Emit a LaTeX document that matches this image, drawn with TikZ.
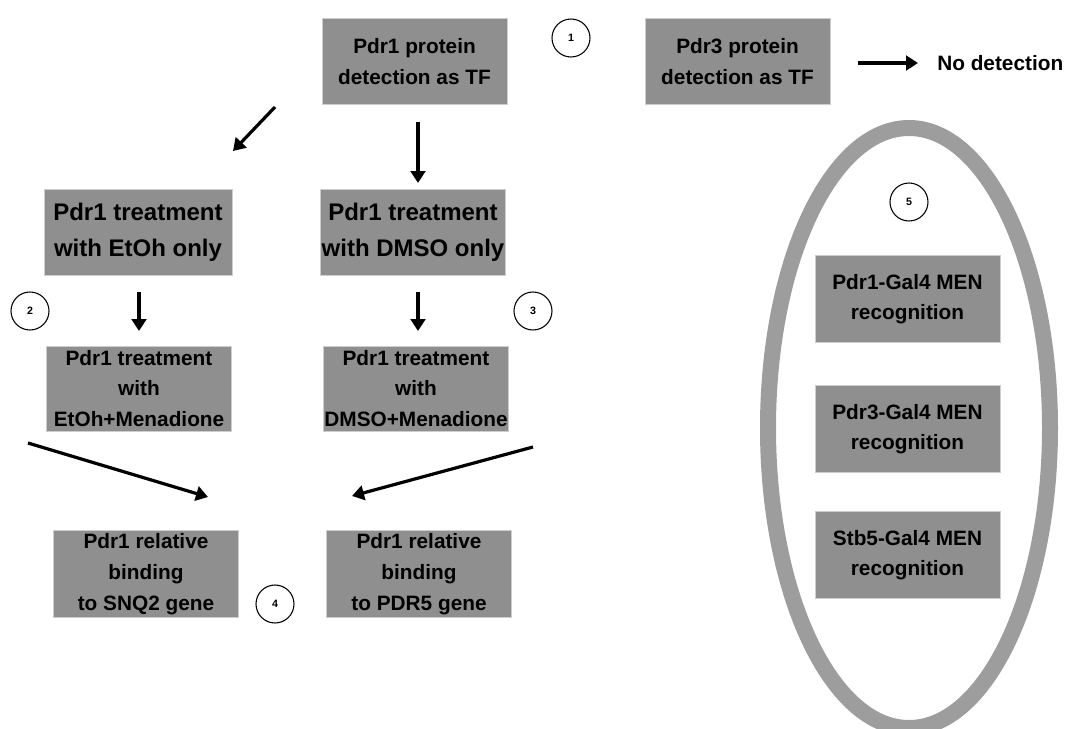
\documentclass[tikz,border=0pt]{standalone}
\usepackage{fontspec}
\setmainfont{Liberation Sans}
\usetikzlibrary{arrows.meta}
\definecolor{boxgray}{RGB}{143,143,143}
\definecolor{ringgray}{RGB}{157,157,157}
\definecolor{edgegray}{RGB}{205,205,205}
\begin{document}
\begin{tikzpicture}[x=0.75pt,y=-0.75pt,
  box/.style={fill=boxgray, draw=edgegray, line width=0.6pt, inner sep=0pt, align=center,
    minimum width=138.75pt, minimum height=65pt, font=\bfseries\fontsize{15.6}{23}\selectfont},
  bigbox/.style={box, font=\bfseries\fontsize{18}{27}\selectfont},
  num/.style={circle, draw=black, line width=0.8pt, minimum size=28.5pt, inner sep=0pt,
    font=\bfseries\fontsize{8}{9}\selectfont},
  arr/.style={line width=2.4pt, -{Triangle[length=9pt,width=11pt]}},
  lbl/.style={inner sep=0pt, font=\bfseries\fontsize{15.6}{23}\selectfont}
]
\useasboundingbox (0,0) rectangle (1065,729);

% ring
\draw[ringgray, line width=12pt] (909,428) ellipse [x radius=141, y radius=300];

% boxes
\node[box] (p1) at (414.5,61.5) {Pdr1 protein\\detection as TF};
\node[box] (p3) at (737.5,61.5) {Pdr3 protein\\detection as TF};
\node[lbl, anchor=west] (nd) at (937,63) {No detection};

\node[bigbox, minimum width=141pt] (e1) at (138,232.5) {Pdr1 treatment\\with EtOh only};
\node[bigbox] (d1) at (413,232.5) {Pdr1 treatment\\with DMSO only};

\node[box, minimum height=63.75pt] (e2) at (139,388.5) {Pdr1 treatment\\with\\EtOh+Menadione};
\node[box, minimum height=63.75pt] (d2) at (416,388.5) {Pdr1 treatment\\with\\DMSO+Menadione};

\node[box] (sn) at (146,574) {Pdr1 relative\\binding\\to SNQ2 gene};
\node[box] (pd) at (419,574) {Pdr1 relative\\binding\\to PDR5 gene};

\node[box] (g1) at (907.5,299) {Pdr1-Gal4 MEN\\recognition};
\node[box] (g3) at (907.5,429) {Pdr3-Gal4 MEN\\recognition};
\node[box] (g5) at (907.5,555) {Stb5-Gal4 MEN\\recognition};

% numbers
\node[num] (n1) at (571,38) {1};
\node[num] (n2) at (30,311) {2};
\node[num] (n3) at (533,311) {3};
\node[num] (n4) at (275,604) {4};
\node[num] (n5) at (909,202) {5};

% arrow end points
\coordinate (a1s) at (275,107); \coordinate (a1e) at (233,151);
\coordinate (a2s) at (418,122); \coordinate (a2e) at (418,183);
\coordinate (a3s) at (858,63);  \coordinate (a3e) at (918,63);
\coordinate (a4s) at (139,292); \coordinate (a4e) at (139,331);
\coordinate (a5s) at (418,292); \coordinate (a5e) at (418,331);
\coordinate (a6s) at (28,443);  \coordinate (a6e) at (208,497);
\coordinate (a7s) at (533,447); \coordinate (a7e) at (352,496);

\draw[arr] (a1s) -- (a1e);
\draw[arr] (a2s) -- (a2e);
\draw[arr] (a3s) -- (a3e);
\draw[arr] (a4s) -- (a4e);
\draw[arr] (a5s) -- (a5e);
\draw[arr] (a6s) -- (a6e);
\draw[arr] (a7s) -- (a7e);
\end{tikzpicture}
\end{document}
